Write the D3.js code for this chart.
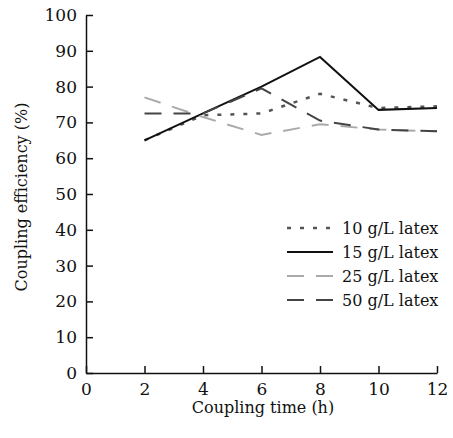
<!DOCTYPE html>
<html>
<head>
<meta charset="utf-8">
<script src="https://cdn.jsdelivr.net/npm/d3@7"></script>
<style>
  body { margin: 0; background: #fff; }
  svg text { font-family: 'DejaVu Serif', 'Liberation Serif', serif; fill: #111; }
</style>
</head>
<body>
<svg width="453" height="438"></svg>
<script>
var svg = d3.select("svg");

// Data
var hours = [2, 4, 6, 8, 10, 12];
var latex10 = [65, 72, 72.5, 78, 74, 74.5];
var latex15 = [65, 72.5, 80, 88.3, 73.5, 74];
var latex25 = [77, 71.5, 66.5, 69.5, 68, 67.5];
var latex50 = [72.5, 72.5, 79.5, 70.5, 68, 67.5];
var seriesNames = ["10 g/L latex", "15 g/L latex", "25 g/L latex", "50 g/L latex"];
var xTicks = [0, 2, 4, 6, 8, 10, 12];
var yTicks = [0, 10, 20, 30, 40, 50, 60, 70, 80, 90, 100];

var series = [
    { name: seriesNames[0], values: latex10, color: "#555", dash: "4,9", width: 2.5 },
    { name: seriesNames[1], values: latex15, color: "#111", dash: null, width: 2 },
    { name: seriesNames[2], values: latex25, color: "#aaa", dash: "17,12", width: 2 },
    { name: seriesNames[3], values: latex50, color: "#444", dash: "17,12", width: 2 }
];

// Scales
var x = d3.scaleLinear().domain([0, 12]).range([86, 437]);
var y = d3.scaleLinear().domain([0, 100]).range([373, 15]);

// Axes (ticks pointing inward)
var xAxis = svg.append("g")
    .attr("transform", "translate(0," + y(0) + ")")
    .call(d3.axisBottom(x).tickValues(xTicks).tickSizeInner(-7).tickSizeOuter(0).tickPadding(10));
var yAxis = svg.append("g")
    .attr("transform", "translate(" + x(0) + ",0)")
    .call(d3.axisLeft(y).tickValues(yTicks).tickSizeInner(-7).tickSizeOuter(0).tickPadding(9));

[xAxis, yAxis].forEach(function(a) {
    a.attr("font-family", null).attr("font-size", null);
    a.selectAll("path, line").attr("stroke", "#111").attr("stroke-width", 1.5);
    a.selectAll("text").style("font-size", "17px").attr("fill", "#111");
});

// Axis titles
svg.append("text")
    .attr("x", 263).attr("y", 413)
    .attr("text-anchor", "middle")
    .style("font-size", "16px")
    .text("Coupling time (h)");
svg.append("text")
    .attr("transform", "translate(27,197) rotate(-90)")
    .attr("text-anchor", "middle")
    .style("font-size", "16px")
    .text("Coupling efficiency (%)");

// Lines
var line = d3.line()
    .x(function(d, i) { return x(hours[i]); })
    .y(function(d) { return y(d); });

svg.selectAll(".series")
    .data(series)
    .enter()
    .append("path")
    .attr("class", "series")
    .attr("fill", "none")
    .attr("stroke", function(d) { return d.color; })
    .attr("stroke-width", function(d) { return d.width; })
    .attr("stroke-dasharray", function(d) { return d.dash; })
    .attr("d", function(d) { return line(d.values); });

// Legend
var legend = svg.selectAll(".legend")
    .data(series)
    .enter()
    .append("g")
    .attr("class", "legend")
    .attr("transform", function(d, i) { return "translate(287," + (228 + i * 24) + ")"; });

legend.append("line")
    .attr("x1", 0).attr("x2", 46)
    .attr("stroke", function(d) { return d.color; })
    .attr("stroke-width", function(d) { return d.width; })
    .attr("stroke-dasharray", function(d) { return d.dash; });

legend.append("text")
    .attr("x", 55)
    .attr("dy", "0.35em")
    .style("font-size", "16px")
    .text(function(d) { return d.name; });
</script>
</body>
</html>
